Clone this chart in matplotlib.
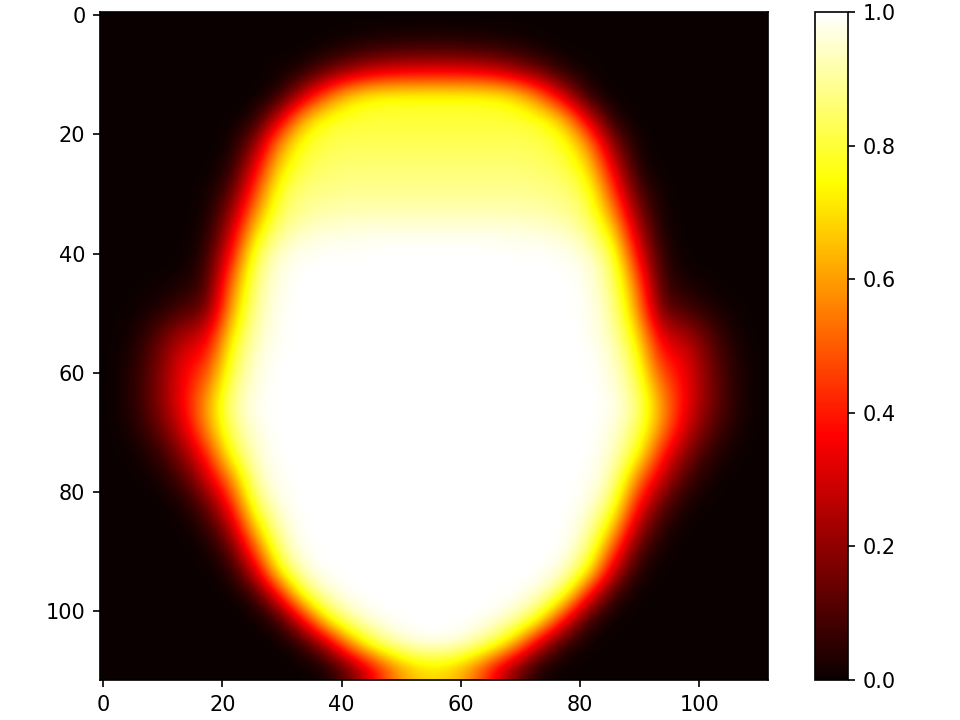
import numpy as np
import matplotlib
matplotlib.use("Agg")
import matplotlib.pyplot as plt

# one row every 4 pixels of the original 112x112 image
grid = [
    [0, 0, 0, 0, 0, 0, 0, 0, 0, 0, 0, 0, 0, 0, 0, 0, 0, 0, 0, 0, 0, 0, 0, 0, 0, 0, 0, 0],
    [0, 0, 0, 0, 0, 0, 0, 0, 0, .01, .03, .05, .06, .07, .07, .06, .05, .03, .01, 0, 0, 0, 0, 0, 0, 0, 0, 0],
    [0, 0, 0, 0, 0, 0, 0, .01, .03, .13, .22, .3, .33, .34, .34, .33, .3, .22, .13, .03, .01, 0, 0, 0, 0, 0, 0, 0],
    [0, 0, 0, 0, 0, 0, 0, .03, .27, .52, .7, .76, .77, .77, .77, .77, .76, .7, .52, .27, .03, 0, 0, 0, 0, 0, 0, 0],
    [0, 0, 0, 0, 0, 0, .03, .3, .65, .78, .8, .8, .8, .8, .8, .8, .8, .8, .78, .65, .3, .03, 0, 0, 0, 0, 0, 0],
    [0, 0, 0, 0, 0, .01, .18, .58, .78, .82, .83, .83, .83, .83, .83, .83, .83, .83, .82, .78, .58, .18, .01, 0, 0, 0, 0, 0],
    [0, 0, 0, 0, 0, .03, .33, .7, .82, .85, .86, .86, .86, .86, .86, .86, .86, .86, .85, .82, .7, .33, .03, 0, 0, 0, 0, 0],
    [0, 0, 0, 0, .01, .1, .46, .8, .87, .88, .89, .89, .89, .89, .89, .89, .89, .89, .88, .87, .8, .46, .1, .01, 0, 0, 0, 0],
    [0, 0, 0, 0, .01, .2, .6, .84, .9, .92, .93, .93, .93, .93, .93, .93, .93, .93, .92, .9, .84, .6, .2, .01, 0, 0, 0, 0],
    [0, 0, 0, 0, .03, .3, .75, .91, .96, .98, .98, .99, .99, .99, .99, .99, .99, .98, .98, .96, .91, .75, .3, .03, 0, 0, 0, 0],
    [0, 0, 0, 0, .06, .42, .85, .97, .995, 1, 1, 1, 1, 1, 1, 1, 1, 1, 1, .995, .97, .85, .42, .06, 0, 0, 0, 0],
    [0, 0, .01, .03, .08, .55, .88, .98, 1, 1, 1, 1, 1, 1, 1, 1, 1, 1, 1, 1, .98, .88, .55, .08, .03, .01, 0, 0],
    [0, .01, .03, .1, .14, .62, .91, .99, 1, 1, 1, 1, 1, 1, 1, 1, 1, 1, 1, 1, .99, .91, .62, .14, .1, .03, .01, 0],
    [0, .02, .12, .24, .3, .72, .93, .99, 1, 1, 1, 1, 1, 1, 1, 1, 1, 1, 1, 1, .99, .93, .72, .3, .24, .12, .02, 0],
    [0, .04, .16, .34, .4, .8, .96, 1, 1, 1, 1, 1, 1, 1, 1, 1, 1, 1, 1, 1, 1, .96, .8, .4, .34, .16, .04, 0],
    [0, .05, .18, .36, .52, .85, .97, 1, 1, 1, 1, 1, 1, 1, 1, 1, 1, 1, 1, 1, 1, .97, .85, .52, .36, .18, .05, 0],
    [0, .05, .18, .36, .61, .9, .99, 1, 1, 1, 1, 1, 1, 1, 1, 1, 1, 1, 1, 1, 1, .99, .9, .61, .36, .18, .05, 0],
    [0, .03, .13, .3, .58, .85, .97, 1, 1, 1, 1, 1, 1, 1, 1, 1, 1, 1, 1, 1, 1, .97, .85, .58, .3, .13, .03, 0],
    [0, .01, .06, .2, .42, .79, .95, 1, 1, 1, 1, 1, 1, 1, 1, 1, 1, 1, 1, 1, 1, .95, .79, .42, .2, .06, .01, 0],
    [0, 0, .02, .1, .3, .58, .93, .99, 1, 1, 1, 1, 1, 1, 1, 1, 1, 1, 1, 1, .99, .93, .58, .3, .1, .02, 0, 0],
    [0, 0, 0, .03, .15, .42, .85, .98, 1, 1, 1, 1, 1, 1, 1, 1, 1, 1, 1, 1, .98, .85, .42, .15, .03, 0, 0, 0],
    [0, 0, 0, 0, .06, .26, .7, .94, 1, 1, 1, 1, 1, 1, 1, 1, 1, 1, 1, 1, .94, .7, .26, .06, 0, 0, 0, 0],
    [0, 0, 0, 0, .01, .12, .49, .88, .995, 1, 1, 1, 1, 1, 1, 1, 1, 1, 1, .995, .88, .49, .12, .01, 0, 0, 0, 0],
    [0, 0, 0, 0, 0, .03, .27, .73, .95, 1, 1, 1, 1, 1, 1, 1, 1, 1, 1, .95, .73, .27, .03, 0, 0, 0, 0, 0],
    [0, 0, 0, 0, 0, 0, .05, .34, .78, .94, .995, 1, 1, 1, 1, 1, 1, .995, .94, .78, .34, .05, 0, 0, 0, 0, 0, 0],
    [0, 0, 0, 0, 0, 0, 0, .05, .34, .74, .91, .98, 1, 1, 1, 1, .98, .91, .74, .34, .05, 0, 0, 0, 0, 0, 0, 0],
    [0, 0, 0, 0, 0, 0, 0, 0, .04, .24, .6, .83, .94, .99, .99, .94, .83, .6, .24, .04, 0, 0, 0, 0, 0, 0, 0, 0],
    [0, 0, 0, 0, 0, 0, 0, 0, 0, .01, .14, .36, .58, .68, .68, .58, .36, .14, .01, 0, 0, 0, 0, 0, 0, 0, 0, 0],
]
image_size = 112
x_ticks = [0, 20, 40, 60, 80, 100]
y_ticks = [0, 20, 40, 60, 80, 100]
bar_ticks = [0.0, 0.2, 0.4, 0.6, 0.8, 1.0]

fig = plt.figure(figsize=(6.4, 4.8), dpi=150)
ax = fig.add_axes([100 / 960, 1 - 680 / 720, 668 / 960, 668 / 720])
cax = fig.add_axes([815 / 960, 1 - 680 / 720, 33 / 960, 668 / 720])

im = ax.imshow(np.array(grid), cmap="hot", vmin=0, vmax=1, interpolation="bicubic",
               extent=(-0.5, image_size - 0.5, image_size - 0.5, -0.5))
ax.set_xticks(x_ticks)
ax.set_yticks(y_ticks)

cbar = fig.colorbar(im, cax=cax)
cbar.set_ticks(bar_ticks)

plt.savefig("out.png")
